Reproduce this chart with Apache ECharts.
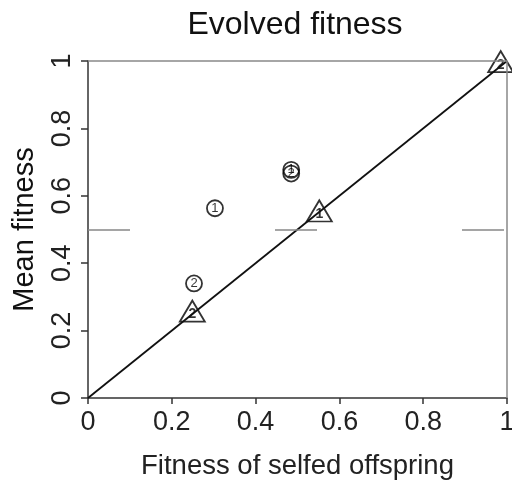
<!DOCTYPE html>
<html>
<head>
<meta charset="utf-8">
<script src="https://cdn.jsdelivr.net/npm/echarts@6/dist/echarts.min.js"></script>
<style>html,body{margin:0;padding:0;background:#fff}#c{width:512px;height:484px}</style>
</head>
<body>
<div id="c"></div>
<script>
// Data
var circleX = [0.303, 0.253, 0.485, 0.485];
var circleY = [0.563, 0.340, 0.677, 0.666];
var circleLabel = ['1', '2', '1', '2'];
var triX = [0.249, 0.552, 0.985];
var triY = [0.258, 0.555, 0.998];
var triLabel = ['2', '1', '2'];
var diagX = [0, 1];
var diagY = [0, 1];
var xTicks = [0, 0.2, 0.4, 0.6, 0.8, 1];
var yTicks = [0, 0.2, 0.4, 0.6, 0.8, 1];

var FONT = '"Liberation Sans", Arial, sans-serif';
function pts(xs, ys, ls) {
  return xs.map(function (x, i) { return ls ? { value: [x, ys[i]], lab: ls[i] } : [x, ys[i]]; });
}
function fmt(v) { return String(Math.round(v * 10) / 10); }
var chart = echarts.init(document.getElementById('c'));
chart.setOption({
  animation: false,
  backgroundColor: '#fff',
  title: {
    text: 'Evolved fitness', left: 290, top: 4, textAlign: 'center',
    textStyle: { fontFamily: FONT, fontSize: 32, fontWeight: 'normal', color: '#111' }
  },
  grid: { left: 88, right: 5, top: 61, bottom: 86, containLabel: false, outerBoundsMode: 'none' },
  xAxis: {
    type: 'value', min: 0, max: 1, interval: 0.2,
    name: 'Fitness of selfed offspring', nameLocation: 'middle', nameGap: 54,
    nameTextStyle: { fontFamily: FONT, fontSize: 27.5, color: '#222' },
    axisLine: { show: true, onZero: false, lineStyle: { color: '#333', width: 1.5 } },
    axisTick: { show: true, inside: false, length: 6, lineStyle: { color: '#333', width: 1.5 } },
    axisLabel: { fontFamily: FONT, fontSize: 27, color: '#222', margin: 11, formatter: fmt },
    splitLine: { show: false }
  },
  yAxis: {
    type: 'value', min: 0, max: 1, interval: 0.2,
    name: 'Mean fitness', nameLocation: 'middle', nameGap: 49, nameRotate: 90,
    nameTextStyle: { fontFamily: FONT, fontSize: 29, color: '#111' },
    axisLine: { show: true, onZero: false, lineStyle: { color: '#333', width: 1.5 } },
    axisTick: { show: true, inside: false, length: 7, lineStyle: { color: '#333', width: 1.5 } },
    axisLabel: { fontFamily: FONT, fontSize: 27, color: '#222', margin: 12, rotate: 90, formatter: fmt },
    splitLine: { show: false }
  },
  series: [
    {
      type: 'line', data: pts(diagX, diagY), symbol: 'none', silent: true,
      lineStyle: { color: '#111', width: 1.8 },
      markLine: {
        symbol: 'none', silent: true, label: { show: false },
        data: [
          { yAxis: 1, lineStyle: { color: '#888', width: 1.5, type: 'solid' } },
          { xAxis: 1, lineStyle: { color: '#888', width: 1.5, type: 'solid' } },
          { yAxis: 0.5, lineStyle: { color: '#888', width: 1.5, type: [42, 145] } }
        ]
      }
    },
    {
      type: 'scatter', data: pts(circleX, circleY, circleLabel), symbol: 'circle', symbolSize: 16,
      itemStyle: { color: 'rgba(255,255,255,0)', borderColor: '#000', borderWidth: 1.8 },
      label: { show: true, position: 'inside', fontFamily: FONT, fontSize: 13, color: '#000',
        formatter: function (p) { return p.data.lab; } }
    },
    {
      type: 'scatter', data: pts(triX, triY, triLabel), symbol: 'triangle', symbolSize: [25, 21],
      itemStyle: { color: 'rgba(255,255,255,0)', borderColor: '#000', borderWidth: 1.8 },
      label: { show: true, position: 'inside', offset: [0, 3], fontFamily: FONT, fontSize: 14, fontWeight: 'bold', color: '#000',
        formatter: function (p) { return p.data.lab; } }
    }
  ]
});
</script>
</body>
</html>
